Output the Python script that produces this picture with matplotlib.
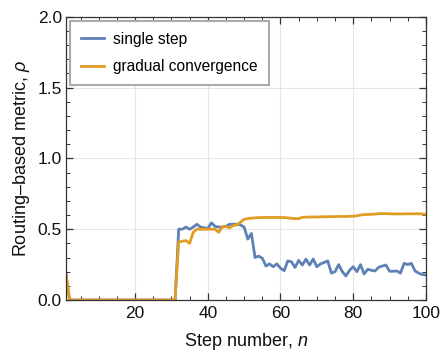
import numpy as np
from matplotlib import pyplot as plt

plt.rcParams['font.family'] = ['Liberation Sans', 'DejaVu Sans']
plt.rcParams['mathtext.fontset'] = 'custom'
plt.rcParams['mathtext.it'] = 'Liberation Sans:italic'
plt.rcParams['mathtext.rm'] = 'Liberation Sans'

steps = np.arange(1, 101)

# single step (blue), n = 1..100
single = [0.18] + [0.0] * 30 + [
    0.50, 0.50, 0.515, 0.50, 0.515, 0.535, 0.515, 0.51, 0.505, 0.545,   # 32-41
    0.52, 0.515, 0.515, 0.52, 0.535, 0.535, 0.535, 0.53, 0.515, 0.43,   # 42-51
    0.47, 0.30, 0.31, 0.295, 0.24, 0.255, 0.235, 0.255, 0.225, 0.207,   # 52-61
    0.276, 0.27, 0.23, 0.28, 0.247, 0.288, 0.247, 0.29, 0.235, 0.255,   # 62-71
    0.265, 0.276, 0.19, 0.20, 0.25, 0.20, 0.17, 0.21, 0.235, 0.20,      # 72-81
    0.25, 0.184, 0.217, 0.21, 0.205, 0.231, 0.24, 0.247, 0.203, 0.203,  # 82-91
    0.205, 0.19, 0.259, 0.25, 0.259, 0.205, 0.19, 0.18, 0.177]          # 92-100

# gradual convergence (orange)
gradual = [0.18] + [0.0] * 30 + [
    0.41, 0.415, 0.42, 0.40, 0.478, 0.50, 0.50, 0.50, 0.50, 0.50,       # 32-41
    0.50, 0.478, 0.518, 0.518, 0.51, 0.525, 0.53, 0.55, 0.57, 0.575,    # 42-51
    0.578, 0.58, 0.582, 0.582, 0.583, 0.583, 0.583, 0.583, 0.583, 0.582,  # 52-61
    0.58, 0.577, 0.575, 0.575, 0.584, 0.585, 0.586, 0.586, 0.587, 0.587,  # 62-71
    0.588, 0.588, 0.589, 0.589, 0.59, 0.59, 0.59, 0.591, 0.592, 0.595,  # 72-81
    0.60, 0.603, 0.604, 0.605, 0.607, 0.61, 0.61, 0.61, 0.609, 0.608,   # 82-91
    0.608, 0.608, 0.608, 0.609, 0.609, 0.609, 0.609, 0.608, 0.605]      # 92-100

blue = '#5E81B5'
orange = '#E19C24'

fig = plt.figure(figsize=(4.4, 3.58), dpi=100)
ax = fig.add_axes([0.15, 0.162, 0.818, 0.791])

ax.plot(steps, single, color=blue, lw=2.0, label='single step')
ax.plot(steps, gradual, color=orange, lw=2.0, label='gradual convergence')

ax.set_xlim(1, 100)
ax.set_ylim(0, 2)
ax.set_xticks([20, 40, 60, 80, 100])
ax.set_xticks(np.arange(5, 100, 5), minor=True)
ax.set_yticks([0.0, 0.5, 1.0, 1.5, 2.0])
ax.set_yticks(np.arange(0.1, 2.0, 0.1), minor=True)
ax.set_yticklabels(['0.0', '0.5', '1.0', '1.5', '2.0'])
ax.grid(True, which='major', color='#e6e6e6', lw=0.8)
ax.set_axisbelow(True)

ax.tick_params(which='both', direction='in', top=True, right=True,
               color='#333333', labelsize=12.5, labelcolor='#111111', pad=3)
ax.tick_params(axis='x', which='both', pad=4.5)
ax.tick_params(which='major', length=5, width=0.9)
ax.tick_params(which='minor', length=3, width=0.7)
for s in ax.spines.values():
    s.set_color('#333333')
    s.set_linewidth(0.9)

ax.set_xlabel('Step number, $n$', fontsize=13, color='#111111', labelpad=7)
ax.set_ylabel('Routing\u2013based metric, $\\rho$', fontsize=13, color='#111111',
              labelpad=4)

leg = ax.legend(loc='upper left', bbox_to_anchor=(0.0, 1.0), fontsize=11.2,
                fancybox=False, framealpha=1, edgecolor='#aaaaaa',
                handlelength=1.5, handletextpad=0.6, borderpad=0.7,
                labelspacing=0.8, borderaxespad=0.25)
leg.get_frame().set_linewidth(1.5)

fig.savefig('out.png', dpi=100)
